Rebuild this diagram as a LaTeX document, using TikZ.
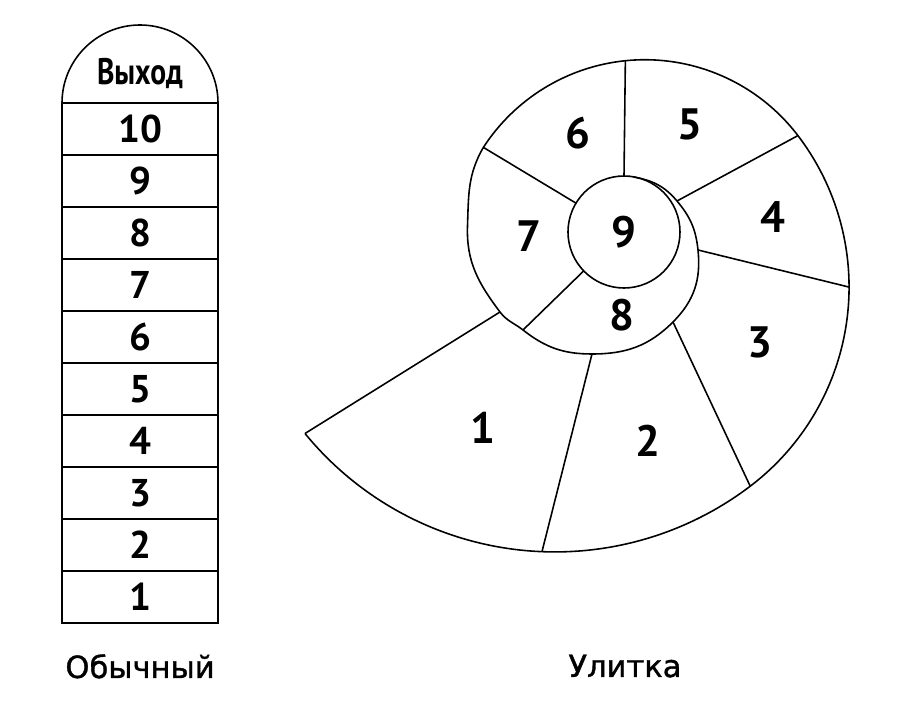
\documentclass[tikz,border=0pt]{standalone}
\usepackage{fontspec}
\setmainfont{DejaVu Sans}
\newfontfamily\capfont{DejaVu Sans}[FakeBold=1.2]
\newfontfamily\handfont{PT Sans}
\newfontfamily\narrowfont{PT Sans}[FakeStretch=0.8]
\usepackage{tikz}
\usetikzlibrary{positioning}

\begin{document}
\begin{tikzpicture}[
  cell/.style={draw, line width=1.5pt, minimum width=3.12cm, minimum height=1.04cm, inner sep=0pt, outer sep=0pt, font=\handfont\bfseries\fontsize{22}{22}\selectfont},
  part/.style={font=\handfont\bfseries\fontsize{25}{25}\selectfont},
  thin/.style={line width=0.9pt},
  caption/.style={anchor=base, font=\capfont\fontsize{17.4}{19}\selectfont}
]
\useasboundingbox (0,0) rectangle (18,14.28);

% the ordinary column
\node[cell] (row10) at (2.80,11.70) {10};
\node[cell, below=0pt of row10] (row9) {9};
\node[cell, below=0pt of row9] (row8) {8};
\node[cell, below=0pt of row8] (row7) {7};
\node[cell, below=0pt of row7] (row6) {6};
\node[cell, below=0pt of row6] (row5) {5};
\node[cell, below=0pt of row5] (row4) {4};
\node[cell, below=0pt of row4] (row3) {3};
\node[cell, below=0pt of row3] (row2) {2};
\node[cell, below=0pt of row2] (row1) {1};
\draw[thin] (row10.north west) arc[start angle=180, end angle=0, radius=1.56];
\node[font=\narrowfont\bfseries\fontsize{21}{21}\selectfont] (exit) at (2.80,12.80) {Выход};

% the snail
\coordinate (tip) at (6.10,5.61);
\coordinate (left) at (9.35,9.76);
\coordinate (i1) at (10.00,8.04);
\coordinate (o78) at (10.46,7.68);
\coordinate (i12) at (11.84,7.20);
\coordinate (i23) at (13.46,7.84);
\coordinate (i34) at (13.96,9.28);
\coordinate (i45) at (13.54,10.26);
\coordinate (end) at (12.67,10.74);
\draw[thin] (tip) arc[start angle=219.3, end angle=267.7, radius=6.46] coordinate (o12)
  arc[start angle=267.7, end angle=307.2, radius=6.46] coordinate (o23)
  arc[start angle=307.2, end angle=360, radius=5] coordinate (o34)
  arc[start angle=0, end angle=37.3, radius=5] coordinate (o45)
  arc[start angle=37.3, end angle=95.8, radius=3.85] coordinate (o56)
  arc[start angle=95.8, end angle=147, radius=3.85] coordinate (o67)
  to[out=240, in=88] (left)
  to[out=268, in=127] (i1)
  to[out=307, in=142] (o78)
  to[out=322, in=180] (i12)
  to[out=0, in=225] (i23)
  to[out=45, in=276] (i34)
  to[out=96, in=310] (i45)
  to[out=130, in=350] (end);
\node[circle, draw, thin, minimum size=2.24cm, inner sep=0pt, outer sep=0pt, part] (core) at (12.48,9.64) {9};
\draw[thin] (tip) -- (i1);
\draw[thin] (o12) -- (i12);
\draw[thin] (o23) -- (i23);
\draw[thin] (o34) -- (i34);
\draw[thin] (o45) -- (i45);
\draw[thin] (o56) -- (core.north);
\draw[thin] (o67) -- (core.149);
\draw[thin] (o78) -- (core.224);
\node[part] (p1) at (9.66,5.72) {1};
\node[part] (p2) at (12.96,5.46) {2};
\node[part] (p3) at (15.20,7.44) {3};
\node[part] (p4) at (15.46,9.94) {4};
\node[part] (p5) at (13.80,11.80) {5};
\node[part] (p6) at (11.56,11.62) {6};
\node[part] (p7) at (10.58,9.56) {7};
\node[part] (p8) at (12.44,7.98) {8};

\node[caption] (plain) at (2.80,0.72) {Обычный};
\node[caption] (snail) at (12.50,0.74) {Улитка};
\end{tikzpicture}
\end{document}
